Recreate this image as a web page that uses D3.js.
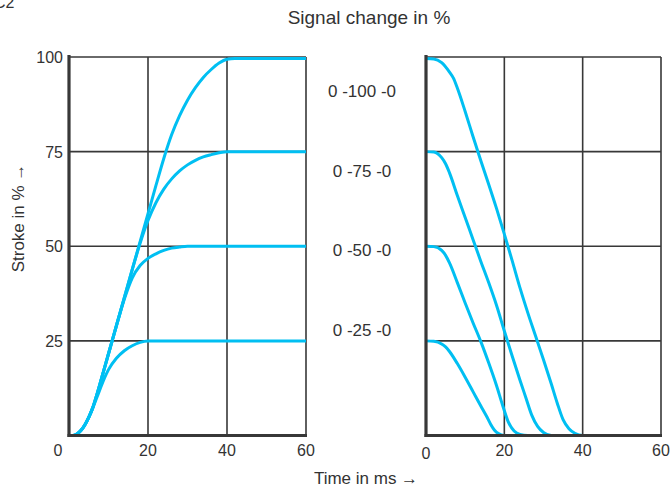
<html>
<head>
<style>
body
{
  margin:0;
  background:#fff;
}
text
{
  font-family:"Liberation Sans", Arial, sans-serif;
  fill:#333;
}
</style>
<script src="https://cdnjs.cloudflare.com/ajax/libs/d3/7.8.5/d3.min.js"></script>
</head>
<body>
<script>
// step response, stroke 0 -> x (left panel)
var rise25 = [[0,0],[1,0],[2,0.4],[3,1.3],[4,2.8],[5,4.8],[6,7.2],[7,9.9],[8,12.6],[9,15.2],[10,17.4],[12,20.4],[14,22.4],[16,23.7],[18,24.6],[20,25],[60,25]];
var rise50 = [[0,0],[1,0],[2,0.4],[3,1.3],[4,2.8],[5,4.8],[6,7.3],[7,10.6],[8,14.2],[10,21.6],[12,29],[14,36],[16,41.6],[18,44.9],[20,46.8],[22,48],[24,48.9],[26,49.5],[28,49.8],[30,50],[60,50]];
var rise75 = [[0,0],[1,0],[2,0.4],[3,1.3],[4,2.8],[5,4.8],[6,7.3],[7,10.6],[8,14.2],[10,21.6],[12,29],[14,36.4],[16,43.8],[18,50.8],[20,56.8],[22,61.5],[24,65.1],[26,67.8],[28,69.9],[30,71.5],[32,72.7],[34,73.6],[36,74.2],[38,74.7],[40,75],[60,75]];
var rise100 = [[0,0],[1,0],[2,0.4],[3,1.3],[4,2.8],[5,4.8],[6,7.3],[7,10.6],[8,14.2],[10,21.6],[12,29],[14,36.4],[16,43.8],[18,51.2],[20,58.6],[22,66],[24,73.2],[26,79.5],[28,84.5],[30,88.6],[32,91.9],[34,94.6],[36,96.7],[38,98.4],[40,99.4],[42,99.6],[60,99.6]];

// return x -> 0 (right panel)
var fall25 = [[0,25],[2,24.9],[4,24.2],[5,23.4],[6,22.2],[8,19],[10,15.4],[12,11.6],[14,7.8],[15.5,5],[16.5,3],[17.5,1.4],[18.5,0.5],[20,0],[40,0]];
var fall50 = [[0,50],[2,49.9],[4,48.9],[5,47.6],[6,45.6],[8,40.4],[10,35],[12,29.8],[14,24.8],[16,19.2],[18,13.2],[19.5,8.2],[21,3.6],[22.5,1.2],[24,0.3],[26,0],[45,0]];
var fall75 = [[0,75],[2,74.9],[4,73.4],[5,71.8],[6,69.4],[8,63.4],[10,57.6],[12,51.8],[14,46],[16,40.4],[18,34.4],[20,27.6],[22,21],[24,14.6],[25.5,10],[27,5.4],[28.5,2.4],[30,0.8],[32,0],[45,0]];
var fall100 = [[0,99.6],[2,99.5],[4,98.5],[6,96],[7,94.4],[8,91.8],[10,85.6],[12,79],[14,72.6],[16,66.4],[18,60],[20,53.2],[22,46.2],[24,39],[26,32.4],[28,26.2],[30,20],[32,13.6],[33.5,8.6],[35,4.2],[36.5,1.8],[38,0.6],[40,0],[48,0]];

var riseSeries = [rise25, rise50, rise75, rise100];
var fallSeries = [fall25, fall50, fall75, fall100];

var xTicks = [20, 40, 60];
var yTicks = [25, 50, 75, 100];
var midLabels = ["0 -100 -0", "0 -75 -0", "0 -50 -0", "0 -25 -0"];
var midLabelY = [91, 70, 49, 28]; // stroke level the label sits beside

var W = 671, H = 487;
var svg = d3.select("body").append("svg")
  .attr("width", W)
  .attr("height", H);

var y = d3.scaleLinear().domain([0, 100]).range([435.5, 57]);
var xL = d3.scaleLinear().domain([0, 60]).range([69, 306]);
var xR = d3.scaleLinear().domain([0, 60]).range([426, 661]);

var gridColor = "#383838";
var blue = "#00bff2";

function panel(x, series)
{
  var g = svg.append("g");

  // vertical grid
  g.selectAll(".vg").data(xTicks).enter().append("line")
    .attr("x1", function(d){ return x(d); })
    .attr("x2", function(d){ return x(d); })
    .attr("y1", y(100))
    .attr("y2", y(0))
    .style("stroke", gridColor)
    .style("stroke-width", 1.6);

  // horizontal grid
  g.selectAll(".hg").data(yTicks).enter().append("line")
    .attr("x1", x(0))
    .attr("x2", x(60))
    .attr("y1", function(d){ return y(d); })
    .attr("y2", function(d){ return y(d); })
    .style("stroke", gridColor)
    .style("stroke-width", 1.6);

  var line = d3.line()
    .x(function(d){ return x(d[0]); })
    .y(function(d){ return y(d[1]); })
    .curve(d3.curveMonotoneX);

  g.selectAll(".curve").data(series).enter().append("path")
    .attr("d", line)
    .style("fill", "none")
    .style("stroke", blue)
    .style("stroke-width", 3)
    .style("stroke-linejoin", "round");

  // heavy axis lines
  g.append("line")
    .attr("x1", x(0)).attr("x2", x(0))
    .attr("y1", y(100) - 2).attr("y2", y(0) + 1.5)
    .style("stroke", gridColor)
    .style("stroke-width", 3.2);
  g.append("line")
    .attr("x1", x(0) - 1.5).attr("x2", x(60) + 1)
    .attr("y1", y(0)).attr("y2", y(0))
    .style("stroke", gridColor)
    .style("stroke-width", 3.2);

  // x tick labels
  g.selectAll(".xt").data(xTicks).enter().append("text")
    .attr("x", function(d){ return x(d); })
    .attr("y", y(0) + 20)
    .attr("text-anchor", "middle")
    .style("font-size", "16px")
    .text(function(d){ return d; });

  return g;
}

var gl = panel(xL, riseSeries);
var gr = panel(xR, fallSeries);

// the two zero labels
gl.append("text")
  .attr("x", xL(0) - 11)
  .attr("y", y(0) + 20)
  .attr("text-anchor", "middle")
  .style("font-size", "16px")
  .text("0");
gr.append("text")
  .attr("x", xR(0))
  .attr("y", y(0) + 23)
  .attr("text-anchor", "middle")
  .style("font-size", "16px")
  .text("0");

// y tick labels, left panel only
gl.selectAll(".yt").data(yTicks).enter().append("text")
  .attr("x", xL(0) - 6)
  .attr("y", function(d){ return y(d) + 6; })
  .attr("text-anchor", "end")
  .style("font-size", "16px")
  .text(function(d){ return d; });

// labels between the panels
svg.selectAll(".mid").data(midLabels).enter().append("text")
  .attr("x", 362)
  .attr("y", function(d, i){ return y(midLabelY[i]) + 6; })
  .attr("text-anchor", "middle")
  .style("font-size", "17px")
  .text(function(d){ return d; });

svg.append("text")
  .attr("x", 369)
  .attr("y", 24)
  .attr("text-anchor", "middle")
  .style("font-size", "19px")
  .text("Signal change in %");

svg.append("text")
  .attr("x", 366)
  .attr("y", 484)
  .attr("text-anchor", "middle")
  .style("font-size", "17px")
  .text("Time in ms \u2192");

svg.append("text")
  .attr("transform", "translate(24,218) rotate(-90)")
  .attr("text-anchor", "middle")
  .style("font-size", "17px")
  .text("Stroke in % \u2192");

svg.append("text")
  .attr("x", -6)
  .attr("y", 8)
  .style("font-size", "16px")
  .text("C2");
</script>
</body>
</html>
